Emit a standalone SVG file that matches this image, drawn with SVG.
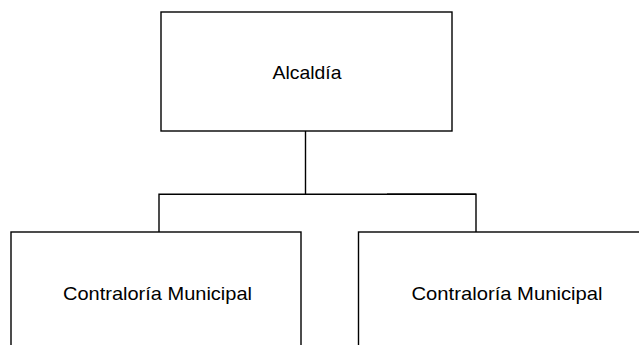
<svg xmlns="http://www.w3.org/2000/svg" width="639" height="345" viewBox="0 0 639 345">
<style>
.box{fill:#fff;stroke:#000;stroke-width:1.4}
.lbl{font-family:"Liberation Sans",Arial,sans-serif;font-size:19px;fill:#000;text-anchor:middle}
.conn{fill:none;stroke:#000;stroke-width:1.4}
</style>
<rect width="639" height="345" fill="#fff"/>
<g id="connectors">
<path class="conn" d="M305.5 131V194.3M159 232V194.3H476V232"/>
<path class="conn" d="M387 194.3H476" stroke-width="2.2"/>
</g>
<g id="alcaldia">
<rect class="box" x="161" y="12" width="291" height="119"/>
<text class="lbl" x="307" y="79" textLength="69" lengthAdjust="spacingAndGlyphs">Alcaldía</text>
</g>
<g id="contraloria1">
<rect class="box" x="11" y="232" width="290" height="130"/>
<text class="lbl" x="157.5" y="300" textLength="189" lengthAdjust="spacingAndGlyphs">Contraloría Municipal</text>
</g>
<g id="contraloria2">
<rect class="box" x="358.5" y="232" width="290" height="130"/>
<text class="lbl" x="507" y="300" textLength="191" lengthAdjust="spacingAndGlyphs">Contraloría Municipal</text>
</g>
</svg>
